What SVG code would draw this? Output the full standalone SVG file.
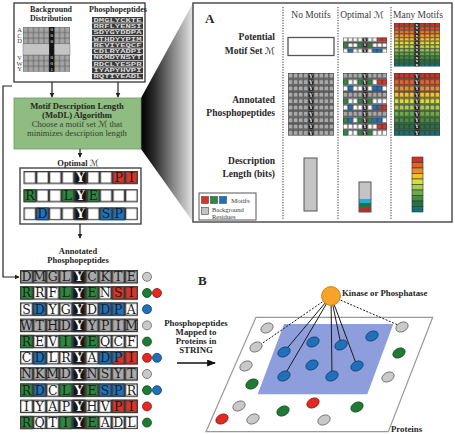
<svg xmlns="http://www.w3.org/2000/svg" width="455" height="434" viewBox="0 0 455 434">
<defs>
<style>
.lb{font-family:"Liberation Serif","Times New Roman",serif;font-weight:bold;fill:#262626}
.rg{font-family:"Liberation Serif","Times New Roman",serif;fill:#3a3a3a}
.scr{font-family:"DejaVu Serif","DejaVu Sans",serif;font-style:italic;font-weight:normal}
.g{fill:#a9a9a9}.w{fill:#fff}.gr{fill:#2b8a3e}.r{fill:#db3328}.bl{fill:#1e73bf}.k{fill:#141414}
.yt{font-family:"DejaVu Serif",serif;font-weight:bold;font-size:9.5px;fill:#fff;text-anchor:middle}
.ltr{font-family:"DejaVu Serif",serif;font-size:12.5px;fill:#1c1c1c;text-anchor:middle}
.ln{fill:none;stroke:#222;stroke-width:1.2}
.ng{fill:#c9c9c9;stroke:#666;stroke-width:0.8}
.nb{fill:#1f70b9;stroke:#0d3f70;stroke-width:0.8}
.ngr{fill:#1e7a35;stroke:#0f4a1e;stroke-width:0.8}
.nr{fill:#e02a22;stroke:#8a1510;stroke-width:0.8}
.sol{stroke:#1a1a1a;stroke-width:1}
.dsh{stroke:#1a1a1a;stroke-width:1;stroke-dasharray:2 1.5}
.sep{stroke:#333;stroke-width:1;stroke-dasharray:1.2 1.4}
</style>
<marker id="ah" viewBox="0 0 8 8" refX="7" refY="4" markerWidth="5" markerHeight="5" orient="auto" markerUnits="userSpaceOnUse"><path d="M0,0 L8,4 L0,8 z" fill="#222"/></marker>
<marker id="ahB" viewBox="0 0 10 8" refX="9" refY="4" markerWidth="10" markerHeight="7" orient="auto" markerUnits="userSpaceOnUse"><path d="M0,0 L10,4 L0,8 z" fill="#111"/></marker>
<linearGradient id="zg" x1="0" y1="0" x2="1" y2="0"><stop offset="0" stop-color="#000"/><stop offset="0.25" stop-color="#2a2a2a"/><stop offset="1" stop-color="#e6e6e6"/></linearGradient>
<pattern id="cl12" width="10" height="12" patternUnits="userSpaceOnUse"><rect x="0.5" y="0.5" width="9" height="9" fill="none" stroke="#3a3a3a" stroke-width="1"/></pattern>
<pattern id="cl14" width="10" height="14" patternUnits="userSpaceOnUse"><rect x="0.5" y="0.5" width="9" height="9" fill="none" stroke="#3a3a3a" stroke-width="1"/></pattern>
<pattern id="gp12" width="10" height="12" patternUnits="userSpaceOnUse"><rect width="10" height="10" fill="#a9a9a9"/></pattern>
<pattern id="kp12" width="10" height="12" patternUnits="userSpaceOnUse"><rect width="10" height="10" fill="#141414"/></pattern>
<pattern id="kp14" width="10" height="14" patternUnits="userSpaceOnUse"><rect width="10" height="10" fill="#141414"/></pattern>
<pattern id="bgp" x="23" y="27" width="5.22" height="5.6" patternUnits="userSpaceOnUse"><rect x="0.3" y="0.3" width="4.62" height="5" fill="#a5a5a5" stroke="#6a6a6a" stroke-width="0.6"/></pattern>
<g id="ycol10"><rect x="40" y="0" width="10" height="118" fill="url(#kp12)"/><text class="yt" x="45 45 45 45 45 45 45 45 45 45" y="8.5 20.5 32.5 44.5 56.5 68.5 80.5 92.5 104.5 116.5">YYYYYYYYYY</text></g>
<g id="ycol12"><rect x="40" y="0" width="10" height="142" fill="url(#kp12)"/><text class="yt" x="45 45 45 45 45 45 45 45 45 45 45 45" y="8.5 20.5 32.5 44.5 56.5 68.5 80.5 92.5 104.5 116.5 128.5 140.5">YYYYYYYYYYYY</text></g>
<g id="ycol3"><rect x="40" y="0" width="10" height="38" fill="url(#kp14)"/><text class="yt" x="45 45 45" y="8.5 22.5 36.5">YYY</text></g>
<g id="ann">
<rect class="g" x="0" y="0" width="90" height="10"/><rect class="w" x="0" y="12" width="90" height="10"/><rect class="w" x="0" y="24" width="90" height="10"/><rect class="g" x="0" y="36" width="90" height="10"/><rect class="w" x="0" y="48" width="90" height="10"/><rect class="w" x="0" y="60" width="90" height="10"/><rect class="g" x="0" y="72" width="90" height="10"/><rect class="w" x="0" y="84" width="90" height="10"/><rect class="w" x="0" y="96" width="90" height="10"/><rect class="w" x="0" y="108" width="90" height="10"/>
<rect class="gr" x="0" y="12" width="10" height="10"/><rect class="gr" x="30" y="12" width="10" height="10"/><rect class="gr" x="50" y="12" width="10" height="10"/><rect class="r" x="70" y="12" width="20" height="10"/>
<rect class="bl" x="10" y="24" width="10" height="10"/><rect class="bl" x="60" y="24" width="20" height="10"/>
<rect class="gr" x="0" y="48" width="10" height="10"/><rect class="gr" x="30" y="48" width="10" height="10"/><rect class="gr" x="50" y="48" width="10" height="10"/>
<rect class="bl" x="10" y="60" width="10" height="10"/><rect class="bl" x="60" y="60" width="20" height="10"/><polygon class="r" points="80,60 80,70 70,70"/><rect class="r" x="80" y="60" width="10" height="10"/>
<rect class="gr" x="0" y="84" width="10" height="10"/><rect class="bl" x="10" y="84" width="10" height="10"/><rect class="gr" x="30" y="84" width="10" height="10"/><rect class="gr" x="50" y="84" width="10" height="10"/><rect class="bl" x="60" y="84" width="20" height="10"/>
<rect class="r" x="70" y="96" width="20" height="10"/>
<rect class="gr" x="0" y="108" width="10" height="10"/><rect class="gr" x="30" y="108" width="10" height="10"/><rect class="gr" x="50" y="108" width="10" height="10"/>
<use href="#ycol10"/>
<rect x="0" y="0" width="90" height="118" fill="url(#cl12)"/>
</g>
<g id="mset">
<rect class="w" x="0" y="0" width="90" height="10"/><rect class="w" x="0" y="14" width="90" height="10"/><rect class="w" x="0" y="28" width="90" height="10"/>
<rect class="r" x="70" y="0" width="20" height="10"/>
<rect class="gr" x="0" y="14" width="10" height="10"/><rect class="gr" x="30" y="14" width="10" height="10"/><rect class="gr" x="50" y="14" width="10" height="10"/>
<rect class="bl" x="10" y="28" width="10" height="10"/><rect class="bl" x="60" y="28" width="20" height="10"/>
<use href="#ycol3"/>
<rect x="0" y="0" width="90" height="38" fill="url(#cl14)"/>
</g>
<g id="gray10"><rect x="0" y="0" width="90" height="118" fill="url(#gp12)"/><use href="#ycol10"/><rect x="0" y="0" width="90" height="118" fill="url(#cl12)"/></g>
<g id="many10">
<rect x="0" y="0" width="90" height="10" fill="#d7301f"/><rect x="0" y="12" width="90" height="10" fill="#e8602c"/><rect x="0" y="24" width="90" height="10" fill="#f08a2c"/><rect x="0" y="36" width="90" height="10" fill="#f6c02a"/><rect x="0" y="48" width="90" height="10" fill="#d4df3a"/><rect x="0" y="60" width="90" height="10" fill="#a6cf4f"/><rect x="0" y="72" width="90" height="10" fill="#6bad45"/><rect x="0" y="84" width="90" height="10" fill="#3f923d"/><rect x="0" y="96" width="90" height="10" fill="#22733c"/><rect x="0" y="108" width="90" height="10" fill="#16706e"/>
<use href="#ycol10"/><rect x="0" y="0" width="90" height="118" fill="url(#cl12)"/>
</g>
<g id="many12">
<rect x="0" y="0" width="90" height="10" fill="#d7301f"/><rect x="0" y="12" width="90" height="10" fill="#e4502a"/><rect x="0" y="24" width="90" height="10" fill="#ec742c"/><rect x="0" y="36" width="90" height="10" fill="#f39a2d"/><rect x="0" y="48" width="90" height="10" fill="#f7c02a"/><rect x="0" y="60" width="90" height="10" fill="#e9dc34"/><rect x="0" y="72" width="90" height="10" fill="#c4d943"/><rect x="0" y="84" width="90" height="10" fill="#94c74e"/><rect x="0" y="96" width="90" height="10" fill="#61a845"/><rect x="0" y="108" width="90" height="10" fill="#3a8c3c"/><rect x="0" y="120" width="90" height="10" fill="#23733c"/><rect x="0" y="132" width="90" height="10" fill="#16706e"/>
<use href="#ycol12"/><rect x="0" y="0" width="90" height="142" fill="url(#cl12)"/>
</g>
</defs>

<rect width="455" height="434" fill="#fff"/>

<!-- zoom trapezoid -->
<polygon points="141,98 193,3 193,222 141,149" fill="url(#zg)"/>

<!-- top input box -->
<g id="input-box">
<rect x="14" y="3" width="131" height="79" fill="#fff" stroke="#333" stroke-width="1.3"/>
<text class="lb" x="51" y="12" font-size="8" text-anchor="middle">Background</text>
<text class="lb" x="51" y="21" font-size="8" text-anchor="middle">Distribution</text>
<text class="lb" x="118" y="12" font-size="8" text-anchor="middle">Phosphopeptides</text>
<rect x="23" y="27" width="47" height="44.8" fill="url(#bgp)"/>
<rect x="23" y="43.8" width="47" height="11.2" fill="#c4c4c4" stroke="#777" stroke-width="0.5"/>
<rect x="49.1" y="27" width="5.22" height="44.8" fill="#141414"/>
<g class="rg" font-size="5" text-anchor="middle">
<text x="51.7" y="31.3" fill="#fff">0</text><text x="51.7" y="36.9" fill="#fff">0</text><text x="51.7" y="42.5" fill="#fff">0</text><text x="51.7" y="59.3" fill="#fff">0</text><text x="51.7" y="64.9" fill="#fff">0</text><text x="51.7" y="70.5" fill="#fff">1</text>
</g>
<g class="rg" font-size="6.5" text-anchor="middle">
<text x="19.5" y="32.2">A</text><text x="19.5" y="37.8">C</text><text x="19.5" y="43.4">D</text><text x="19.5" y="60.2">V</text><text x="19.5" y="65.8">W</text><text x="19.5" y="71.4">Y</text>
</g>
<g font-family="Liberation Mono,monospace" font-weight="bold" font-size="5.2" fill="#d8d8d8">
<rect x="92" y="17" width="51" height="5.6" fill="#3a3a3a"/><text x="93.5" y="21.6" textLength="48" lengthAdjust="spacingAndGlyphs">DMGLYCKTE</text>
<rect x="92" y="23.3" width="51" height="5.6" fill="#3a3a3a"/><text x="93.5" y="27.9" textLength="48" lengthAdjust="spacingAndGlyphs">RRFLYENSI</text>
<rect x="92" y="29.6" width="51" height="5.6" fill="#3a3a3a"/><text x="93.5" y="34.2" textLength="48" lengthAdjust="spacingAndGlyphs">SDYGYDDPA</text>
<rect x="92" y="35.9" width="51" height="5.6" fill="#3a3a3a"/><text x="93.5" y="40.5" textLength="48" lengthAdjust="spacingAndGlyphs">WTHDYYPIM</text>
<rect x="92" y="42.2" width="51" height="5.6" fill="#3a3a3a"/><text x="93.5" y="46.8" textLength="48" lengthAdjust="spacingAndGlyphs">REVIYEQCF</text>
<rect x="92" y="48.5" width="51" height="5.6" fill="#3a3a3a"/><text x="93.5" y="53.1" textLength="48" lengthAdjust="spacingAndGlyphs">CDLRYADPI</text>
<rect x="92" y="54.8" width="51" height="5.6" fill="#3a3a3a"/><text x="93.5" y="59.4" textLength="48" lengthAdjust="spacingAndGlyphs">NKMDYNSYT</text>
<rect x="92" y="61.1" width="51" height="5.6" fill="#3a3a3a"/><text x="93.5" y="65.7" textLength="48" lengthAdjust="spacingAndGlyphs">RDCLYESPR</text>
<rect x="92" y="67.4" width="51" height="5.6" fill="#3a3a3a"/><text x="93.5" y="72" textLength="48" lengthAdjust="spacingAndGlyphs">IYAPYHVPI</text>
<rect x="92" y="73.7" width="51" height="5.6" fill="#3a3a3a"/><text x="93.5" y="78.3" textLength="48" lengthAdjust="spacingAndGlyphs">RQTIYEADL</text>
</g>
</g>

<!-- MoDL box -->
<g id="modl-box">
<rect x="14" y="98" width="127" height="51" fill="#8fbc80" stroke="#6f9a62" stroke-width="0.8"/>
<text class="lb" x="77" y="109" font-size="8.6" text-anchor="middle">Motif Description Length</text>
<text class="lb" x="77" y="118" font-size="8.6" text-anchor="middle">(MoDL) Algorithm</text>
<text class="rg" x="77" y="127" font-size="8.6" text-anchor="middle">Choose a motif set <tspan class="scr">ℳ</tspan> that</text>
<text class="rg" x="77" y="136" font-size="8.6" text-anchor="middle">minimizes description length</text>
</g>

<!-- Optimal M box -->
<g id="optimal-box">
<text class="lb" x="78" y="166" font-size="8.5" text-anchor="middle">Optimal  <tspan class="scr">ℳ</tspan></text>
<rect x="20" y="168" width="121" height="56" fill="#fff" stroke="#444" stroke-width="1.4"/>
<use href="#mset" transform="translate(23.5,171) scale(1.27,1.3)"/>
<text class="ltr" x="118.75 131.45" y="182">PI</text>
<text class="ltr" x="29.85 67.95 93.35" y="200.2">RLE</text>
<text class="ltr" x="42.55 106.05 118.75" y="218.4">DSP</text>
</g>

<!-- annotated phosphopeptides -->
<g id="annotated">
<text class="lb" x="78" y="254" font-size="8.5" text-anchor="middle">Annotated</text>
<text class="lb" x="78" y="263" font-size="8.5" text-anchor="middle">Phosphopeptides</text>
<use href="#ann" transform="translate(20,270) scale(1.31,1.35)"/>
<g class="ltr">
<text x="26.55 39.65 52.75 65.85 92.05 105.15 118.25 131.35" y="281.2">DMGLCKTE</text>
<text x="26.55 39.65 52.75 65.85 92.05 105.15 118.25 131.35" y="297.4">RRFLENSI</text>
<text x="26.55 39.65 52.75 65.85 92.05 105.15 118.25 131.35" y="313.6">SDYGDDPA</text>
<text x="26.55 39.65 52.75 65.85 92.05 105.15 118.25 131.35" y="329.8">WTHDYPIM</text>
<text x="26.55 39.65 52.75 65.85 92.05 105.15 118.25 131.35" y="346">REVIEQCF</text>
<text x="26.55 39.65 52.75 65.85 92.05 105.15 118.25 131.35" y="362.2">CDLRADPI</text>
<text x="26.55 39.65 52.75 65.85 92.05 105.15 118.25 131.35" y="378.4">NKMDNSYT</text>
<text x="26.55 39.65 52.75 65.85 92.05 105.15 118.25 131.35" y="394.6">RDCLESPR</text>
<text x="26.55 39.65 52.75 65.85 92.05 105.15 118.25 131.35" y="410.8">IYAPHVPI</text>
<text x="26.55 39.65 52.75 65.85 92.05 105.15 118.25 131.35" y="427">RQTIEADL</text>
</g>
<g>
<circle class="ng" cx="147" cy="276.8" r="4.5"/>
<circle class="ngr" cx="147" cy="293" r="4.5"/><circle class="nr" cx="157" cy="293" r="4.5"/>
<circle class="nb" cx="147" cy="309.2" r="4.5"/>
<circle class="ng" cx="147" cy="325.4" r="4.5"/>
<circle class="ngr" cx="147" cy="341.6" r="4.5"/>
<circle class="nr" cx="147" cy="357.8" r="4.5"/><circle class="nb" cx="157" cy="357.8" r="4.5"/>
<circle class="ng" cx="147" cy="374" r="4.5"/>
<circle class="ngr" cx="147" cy="390.2" r="4.5"/><circle class="nb" cx="157" cy="390.2" r="4.5"/>
<circle class="nr" cx="147" cy="406.4" r="4.5"/>
<circle class="ngr" cx="147" cy="422.6" r="4.5"/>
</g>
</g>

<!-- connectors -->
<g id="connectors">
<line class="ln" x1="52" y1="82" x2="52" y2="97" marker-end="url(#ah)"/>
<line class="ln" x1="118" y1="82" x2="118" y2="97" marker-end="url(#ah)"/>
<line class="ln" x1="80" y1="149" x2="80" y2="157" marker-end="url(#ah)"/>
<line class="ln" x1="80" y1="224" x2="80" y2="238" marker-end="url(#ah)"/>
<path class="ln" d="M12,86 H3 V277 H19" marker-end="url(#ah)"/>
<line x1="177" y1="363" x2="215" y2="363" stroke="#111" stroke-width="1.3" marker-end="url(#ahB)"/>
</g>

<!-- Panel A -->
<g id="panel-a">
<rect x="193" y="3" width="259" height="219" fill="#fff" stroke="#444" stroke-width="1.4"/>
<text class="lb" x="205" y="23" font-size="13">A</text>
<g class="lb" font-size="9.5" text-anchor="end">
<text x="275" y="40">Potential</text>
<text x="275" y="54">Motif Set <tspan class="scr">ℳ</tspan></text>
<text x="275" y="103">Annotated</text>
<text x="275" y="116">Phosphopeptides</text>
<text x="275" y="164">Description</text>
<text x="275" y="177">Length (bits)</text>
</g>
<line class="sep" x1="283" y1="7" x2="283" y2="219"/>
<line class="sep" x1="338" y1="7" x2="338" y2="219"/>
<line class="sep" x1="391" y1="7" x2="391" y2="219"/>
<g class="rg" font-size="9.5" text-anchor="middle">
<text x="311" y="18">No Motifs</text>
<text x="362" y="18">Optimal <tspan class="scr" font-weight="bold">ℳ</tspan></text>
<text x="418" y="18">Many Motifs</text>
</g>
<!-- no motifs -->
<rect x="288" y="37.5" width="46" height="18" fill="#fff" stroke="#555" stroke-width="1.3"/>
<rect x="288" y="73" width="46" height="62.5" fill="#555"/>
<use href="#gray10" transform="translate(288,73) scale(0.511,0.53)"/>
<rect x="304" y="158" width="13" height="53" fill="#c4c4c4" stroke="#555" stroke-width="1"/>
<!-- optimal -->
<rect x="343" y="37.5" width="44" height="15.2" fill="#555"/>
<use href="#mset" transform="translate(343,37.5) scale(0.489,0.4)"/>
<rect x="343" y="73" width="44" height="62.5" fill="#555"/>
<use href="#ann" transform="translate(343,73) scale(0.489,0.53)"/>
<rect x="359" y="182" width="12" height="30" fill="#c4c4c4"/>
<rect x="359" y="199" width="12" height="4" fill="#27a9e1"/>
<rect x="359" y="203" width="12" height="4" fill="#22733c"/>
<rect x="359" y="207" width="12" height="5" fill="#b5302a"/>
<rect x="359" y="182" width="12" height="30" fill="none" stroke="#555" stroke-width="1"/>
<!-- many -->
<rect x="394" y="23" width="46" height="43.3" fill="#555"/>
<use href="#many12" transform="translate(394,23) scale(0.511,0.305)"/>
<rect x="394" y="73" width="46" height="62.5" fill="#555"/>
<use href="#many10" transform="translate(394,73) scale(0.511,0.53)"/>
<g stroke="#333" stroke-width="0.6">
<rect x="412" y="157" width="11" height="5.5" fill="#d7301f"/><rect x="412" y="162.5" width="11" height="5.5" fill="#e8602c"/><rect x="412" y="168" width="11" height="5.5" fill="#f08a2c"/><rect x="412" y="173.5" width="11" height="5.5" fill="#f6c02a"/><rect x="412" y="179" width="11" height="5.5" fill="#d4df3a"/><rect x="412" y="184.5" width="11" height="5.5" fill="#a6cf4f"/><rect x="412" y="190" width="11" height="5.5" fill="#6bad45"/><rect x="412" y="195.5" width="11" height="5.5" fill="#3f923d"/><rect x="412" y="201" width="11" height="5.5" fill="#22733c"/><rect x="412" y="206.5" width="11" height="5.5" fill="#16706e"/>
</g>
<!-- legend -->
<rect x="199" y="193" width="57" height="27" fill="#fff" stroke="#555" stroke-width="1"/>
<rect x="201.5" y="196.5" width="7" height="7" class="r" stroke="#444" stroke-width="0.6"/>
<rect x="210.5" y="196.5" width="7" height="7" class="gr" stroke="#444" stroke-width="0.6"/>
<rect x="219.5" y="196.5" width="7" height="7" class="bl" stroke="#444" stroke-width="0.6"/>
<text class="rg" x="231" y="203" font-size="7" fill="#666">Motifs</text>
<rect x="201.5" y="207.5" width="7" height="7" fill="#c4c4c4" stroke="#444" stroke-width="0.6"/>
<text class="rg" x="212" y="211.5" font-size="6.5" fill="#666">Background</text>
<text class="rg" x="212" y="218.5" font-size="6.5" fill="#666">Residues</text>
</g>

<!-- Panel B -->
<g id="panel-b">
<text class="lb" x="198" y="285" font-size="13">B</text>
<g class="lb" font-size="8.8" text-anchor="middle">
<text x="196" y="325.5">Phosphopeptides</text>
<text x="196" y="334.5">Mapped to</text>
<text x="196" y="343.5">Proteins in</text>
<text x="196" y="352.5">STRING</text>
</g>
<polygon points="256,317.3 432.7,317.3 388.3,431.7 206,431.7" fill="#fff" stroke="#999" stroke-width="1.2"/>
<polygon points="284,324 393.3,324 367.3,394.3 257.7,394.3" fill="#8e9ddb"/>
<g id="edges">
<line class="sol" x1="331" y1="296" x2="284" y2="352"/>
<line class="sol" x1="331" y1="296" x2="284" y2="376"/>
<line class="sol" x1="331" y1="296" x2="332" y2="376"/>
<line class="sol" x1="331" y1="296" x2="341" y2="345"/>
<line class="sol" x1="331" y1="296" x2="357" y2="366"/>
<line class="dsh" x1="331" y1="296" x2="256.5" y2="347.3"/>
<line class="dsh" x1="331" y1="296" x2="402" y2="326.7"/>
</g>
<g id="proteins">
<ellipse class="nb" cx="284" cy="352" rx="6.5" ry="4.6" transform="rotate(-28 284 352)"/>
<ellipse class="nb" cx="313" cy="342" rx="6.5" ry="4.6" transform="rotate(-28 313 342)"/>
<ellipse class="nb" cx="341" cy="345" rx="6.5" ry="4.6" transform="rotate(-28 341 345)"/>
<ellipse class="nb" cx="372" cy="336" rx="6.5" ry="4.6" transform="rotate(-28 372 336)"/>
<ellipse class="nb" cx="284" cy="376" rx="6.5" ry="4.6" transform="rotate(-28 284 376)"/>
<ellipse class="nb" cx="312" cy="365" rx="6.5" ry="4.6" transform="rotate(-28 312 365)"/>
<ellipse class="nb" cx="332" cy="376" rx="6.5" ry="4.6" transform="rotate(-28 332 376)"/>
<ellipse class="nb" cx="357" cy="366" rx="6.5" ry="4.6" transform="rotate(-28 357 366)"/>
<ellipse class="ng" cx="267" cy="328" rx="6.5" ry="4.6" transform="rotate(-28 267 328)"/>
<ellipse class="ng" cx="256" cy="347" rx="6.5" ry="4.6" transform="rotate(-28 256 347)"/>
<ellipse class="ng" cx="246" cy="366" rx="6.5" ry="4.6" transform="rotate(-28 246 366)"/>
<ellipse class="ng" cx="402" cy="327" rx="6.5" ry="4.6" transform="rotate(-28 402 327)"/>
<ellipse class="ng" cx="388" cy="377" rx="6.5" ry="4.6" transform="rotate(-28 388 377)"/>
<ellipse class="ng" cx="239" cy="406" rx="6.5" ry="4.6" transform="rotate(-28 239 406)"/>
<ellipse class="ng" cx="253" cy="419" rx="6.5" ry="4.6" transform="rotate(-28 253 419)"/>
<ellipse class="ng" cx="324" cy="420" rx="6.5" ry="4.6" transform="rotate(-28 324 420)"/>
<ellipse class="ngr" cx="252" cy="384" rx="6.5" ry="4.6" transform="rotate(-28 252 384)"/>
<ellipse class="ngr" cx="399" cy="353" rx="6.5" ry="4.6" transform="rotate(-28 399 353)"/>
<ellipse class="ngr" cx="283" cy="411" rx="6.5" ry="4.6" transform="rotate(-28 283 411)"/>
<ellipse class="ngr" cx="357" cy="407" rx="6.5" ry="4.6" transform="rotate(-28 357 407)"/>
<ellipse class="nr" cx="313" cy="403" rx="6.5" ry="4.6" transform="rotate(-28 313 403)"/>
<ellipse class="nr" cx="222" cy="419" rx="6.5" ry="4.6" transform="rotate(-28 222 419)"/>
</g>
<g id="kinase">
<circle cx="331" cy="296" r="9.4" fill="#f6a52a" stroke="#c9821a" stroke-width="1"/>
<text class="lb" x="342" y="296" font-size="8.8">Kinase or Phosphatase</text>
</g>
<text class="lb" x="391" y="432" font-size="8.8">Proteins</text>
</g>
</svg>
